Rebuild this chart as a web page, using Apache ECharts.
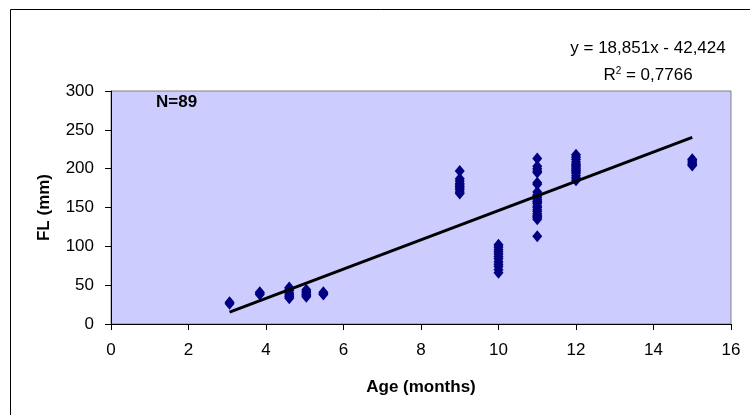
<!DOCTYPE html>
<html>
<head>
<meta charset="utf-8">
<script src="https://cdn.jsdelivr.net/npm/echarts@6/dist/echarts.min.js"></script>
<style>
  html, body { margin: 0; padding: 0; background: #ffffff; }
  #chart { width: 750px; height: 415px; }
</style>
</head>
<body>
<div id="chart"></div>
<script>
// Fork length (mm) of individual fish grouped by age (months)
const ages = [3.06, 3.84, 4.6, 5.04, 5.48, 9, 10, 11, 12, 15];
const lengthsByAge = [
  [28, 26],
  [38, 40, 41],
  [47, 45, 43, 40, 38, 36, 35, 33],
  [44, 42, 40, 38, 37, 35],
  [41, 39, 38],
  [197, 187, 184, 181, 179, 177, 175, 173, 170, 168],
  [102, 99, 96, 93, 90, 87, 84, 80, 77, 74, 70, 66],
  [213, 203, 200, 197, 195, 182, 180, 170, 166, 165, 163, 160, 158, 157, 155, 152, 150, 147, 145, 142, 140, 138, 137, 135, 113],
  [218, 215, 212, 209, 206, 204, 202, 200, 198, 196, 194, 191, 188, 185],
  [212, 211, 209, 207, 205, 204]
];

// Linear regression reported on the chart
const slope = 18.851;
const intercept = -42.424;
const rSquared = '0,7766';
const trendRange = [3.06, 15];

const xTicks = [0, 2, 4, 6, 8, 10, 12, 14, 16];
const yTicks = [0, 50, 100, 150, 200, 250, 300];

const points = [];
ages.forEach((a, i) => lengthsByAge[i].forEach(v => points.push([a, v])));
const trend = trendRange.map(x => [x, slope * x + intercept]);

const fmt = n => Math.abs(n).toFixed(3).replace('.', ',');
const eqText = 'y = ' + fmt(slope) + 'x ' + (intercept < 0 ? '- ' : '+ ') + fmt(intercept);

const chart = echarts.init(document.getElementById('chart'), null, { renderer: 'canvas' });
const font = '"Liberation Sans", Arial, sans-serif';

chart.setOption({
  animation: false,
  backgroundColor: '#ffffff',
  textStyle: { fontFamily: font },
  grid: {
    left: 111, right: 19, top: 91, bottom: 91,
    show: true, backgroundColor: '#CCCCFF',
    borderColor: '#808080', borderWidth: 1
  },
  xAxis: {
    type: 'value', min: xTicks[0], max: xTicks[xTicks.length - 1], interval: 2,
    name: 'Age (months)', nameLocation: 'middle', nameGap: 55,
    nameTextStyle: { fontFamily: font, fontWeight: 'bold', fontSize: 17, color: '#000' },
    axisLine: { show: true, onZero: false, lineStyle: { color: '#000', width: 1 } },
    axisTick: { show: true, length: 6, lineStyle: { color: '#000' } },
    axisLabel: { fontFamily: font, fontSize: 17, color: '#000', margin: 18 },
    splitLine: { show: false }
  },
  yAxis: {
    type: 'value', min: yTicks[0], max: yTicks[yTicks.length - 1], interval: 50,
    name: 'FL (mm)', nameLocation: 'middle', nameGap: 58, nameRotate: 90,
    nameTextStyle: { fontFamily: font, fontWeight: 'bold', fontSize: 17, color: '#000' },
    axisLine: { show: true, onZero: false, lineStyle: { color: '#000', width: 1 } },
    axisTick: { show: true, length: 6, lineStyle: { color: '#000' } },
    axisLabel: { fontFamily: font, fontSize: 17, color: '#000', margin: 17 },
    splitLine: { show: false }
  },
  series: [
    {
      type: 'scatter', data: points, symbol: 'diamond', symbolSize: [10, 12],
      itemStyle: { color: '#000080', opacity: 1 }, z: 2
    },
    {
      type: 'line', data: trend, symbol: 'none', z: 3,
      lineStyle: { color: '#000', width: 3 }
    }
  ],
  graphic: [
    {
      type: 'rect', left: 8, top: 7, silent: true,
      shape: { width: 800, height: 500 },
      style: { fill: 'none', stroke: '#000', lineWidth: 1 }
    },
    {
      type: 'text', x: 648, y: 48,
      style: {
        text: eqText, fontFamily: font, fontSize: 17, fill: '#000',
        align: 'center', verticalAlign: 'middle'
      }
    },
    {
      type: 'text', x: 648, y: 75,
      style: {
        text: '{r|R}{s|2}{r| = ' + rSquared + '}',
        align: 'center', verticalAlign: 'middle',
        rich: {
          r: { fontFamily: font, fontSize: 17, fill: '#000', color: '#000' },
          s: { fontFamily: font, fontSize: 10, color: '#000', verticalAlign: 'top', padding: [0, 0, 8, 0] }
        }
      }
    },
    {
      type: 'text', x: 156, y: 102,
      style: {
        text: 'N=89', fontFamily: font, fontSize: 17, fontWeight: 'bold', fill: '#000',
        align: 'left', verticalAlign: 'middle'
      }
    }
  ]
});
</script>
</body>
</html>
